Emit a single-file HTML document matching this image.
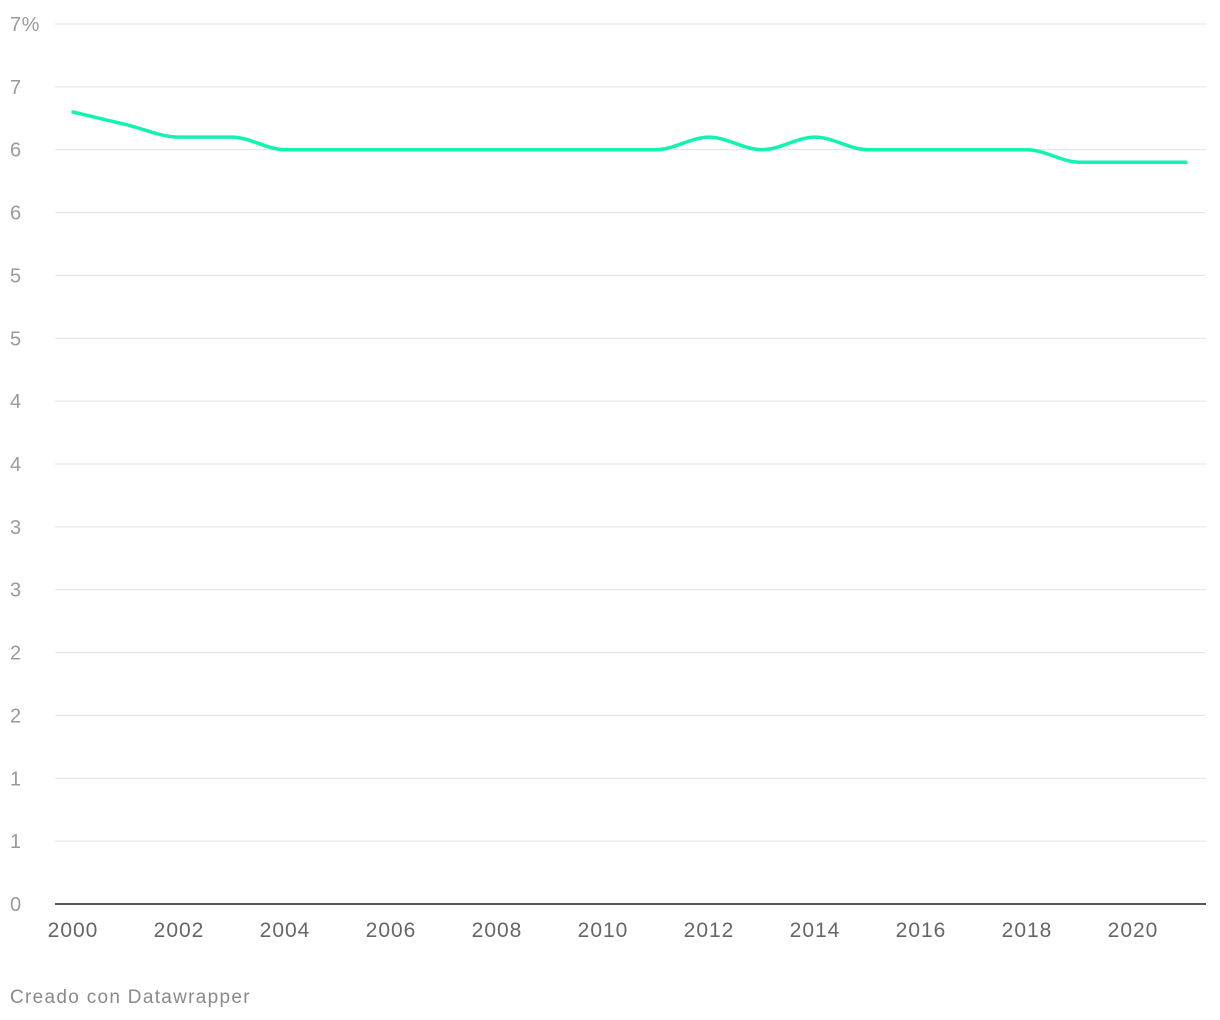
<!DOCTYPE html>
<html><head><meta charset="utf-8"><style>
html,body{margin:0;padding:0;background:#fff;width:1220px;height:1020px;overflow:hidden;font-family:"Liberation Sans",sans-serif}
svg text{font-family:"Liberation Sans",sans-serif}
</style></head><body>
<svg id="chart" width="1220" height="1020" xmlns="http://www.w3.org/2000/svg">
<g id="grid"></g>
<g id="ylab"></g>
<g id="xlab"></g>
<path id="line" fill="none" stroke="#14f2b2" stroke-width="3.5" stroke-linejoin="round" stroke-linecap="round"/>
<line x1="55" x2="1206" y1="904" y2="904" stroke="#222" stroke-width="1.5"/>
<text x="10" y="1003" font-size="19" letter-spacing="1.3" fill="#8a8a8a">Creado con Datawrapper</text>
</svg>
<script>
const years=[2000,2001,2002,2003,2004,2005,2006,2007,2008,2009,2010,2011,2012,2013,2014,2015,2016,2017,2018,2019,2020,2021];
const values=[6.3,6.2,6.1,6.1,6.0,6.0,6.0,6.0,6.0,6.0,6.0,6.0,6.1,6.0,6.1,6.0,6.0,6.0,6.0,5.9,5.9,5.9];
const yTicks=[0,0.5,1,1.5,2,2.5,3,3.5,4,4.5,5,5.5,6,6.5,7];
const yTickLabels=["0","1","1","2","2","3","3","4","4","5","5","6","6","7","7%"];
const xTicks=[2000,2002,2004,2006,2008,2010,2012,2014,2016,2018,2020];
const NS="http://www.w3.org/2000/svg";
const x=v=>73+(v-2000)*53;
const y=v=>904-v*(880/7);
const grid=document.getElementById('grid'),ylab=document.getElementById('ylab'),xlab=document.getElementById('xlab');
yTicks.forEach((t,i)=>{
  if(t>0){const l=document.createElementNS(NS,'line');
  
  
  l.setAttribute('x1',55);l.setAttribute('x2',1206);l.setAttribute('y1',y(t));l.setAttribute('y2',y(t));
  l.setAttribute('stroke','#e2e2e2');l.setAttribute('stroke-width','1');grid.appendChild(l);}
  const tx=document.createElementNS(NS,'text');
  
  
  tx.setAttribute('x',10);tx.setAttribute('y',y(t)+7);tx.setAttribute('font-size','20');tx.setAttribute('letter-spacing','0.5');tx.setAttribute('fill','#9a9a9a');
  tx.textContent=yTickLabels[i];ylab.appendChild(tx);
});
xTicks.forEach(t=>{
  const tx=document.createElementNS(NS,'text');
  
  
  tx.setAttribute('x',x(t));tx.setAttribute('y',937);tx.setAttribute('font-size','21');tx.setAttribute('letter-spacing','1');tx.setAttribute('fill','#666');
  tx.setAttribute('text-anchor','middle');tx.textContent=t;xlab.appendChild(tx);
});
const px=years.map(x),py=values.map(y),n=px.length;
const d=[],m=[];
for(let i=0;i<n-1;i++)d.push((py[i+1]-py[i])/(px[i+1]-px[i]));
for(let i=0;i<n;i++){
  if(i===0)m.push(d[0]);else if(i===n-1)m.push(d[n-2]);
  else m.push(d[i-1]*d[i]<=0?0:(d[i-1]+d[i])/2);
}
for(let i=0;i<n-1;i++){
  if(d[i]===0){m[i]=0;m[i+1]=0;continue;}
  const a=m[i]/d[i],b=m[i+1]/d[i],s=a*a+b*b;
  if(s>9){const t=3/Math.sqrt(s);m[i]=t*a*d[i];m[i+1]=t*b*d[i];}
}
let p="M"+px[0]+","+py[0];
for(let i=0;i<n-1;i++){
  const h=(px[i+1]-px[i])/3;
  p+=" C"+(px[i]+h)+","+(py[i]+m[i]*h)+" "+(px[i+1]-h)+","+(py[i+1]-m[i+1]*h)+" "+px[i+1]+","+py[i+1];
}
document.getElementById('line').setAttribute('d',p);
</script>
</body></html>
